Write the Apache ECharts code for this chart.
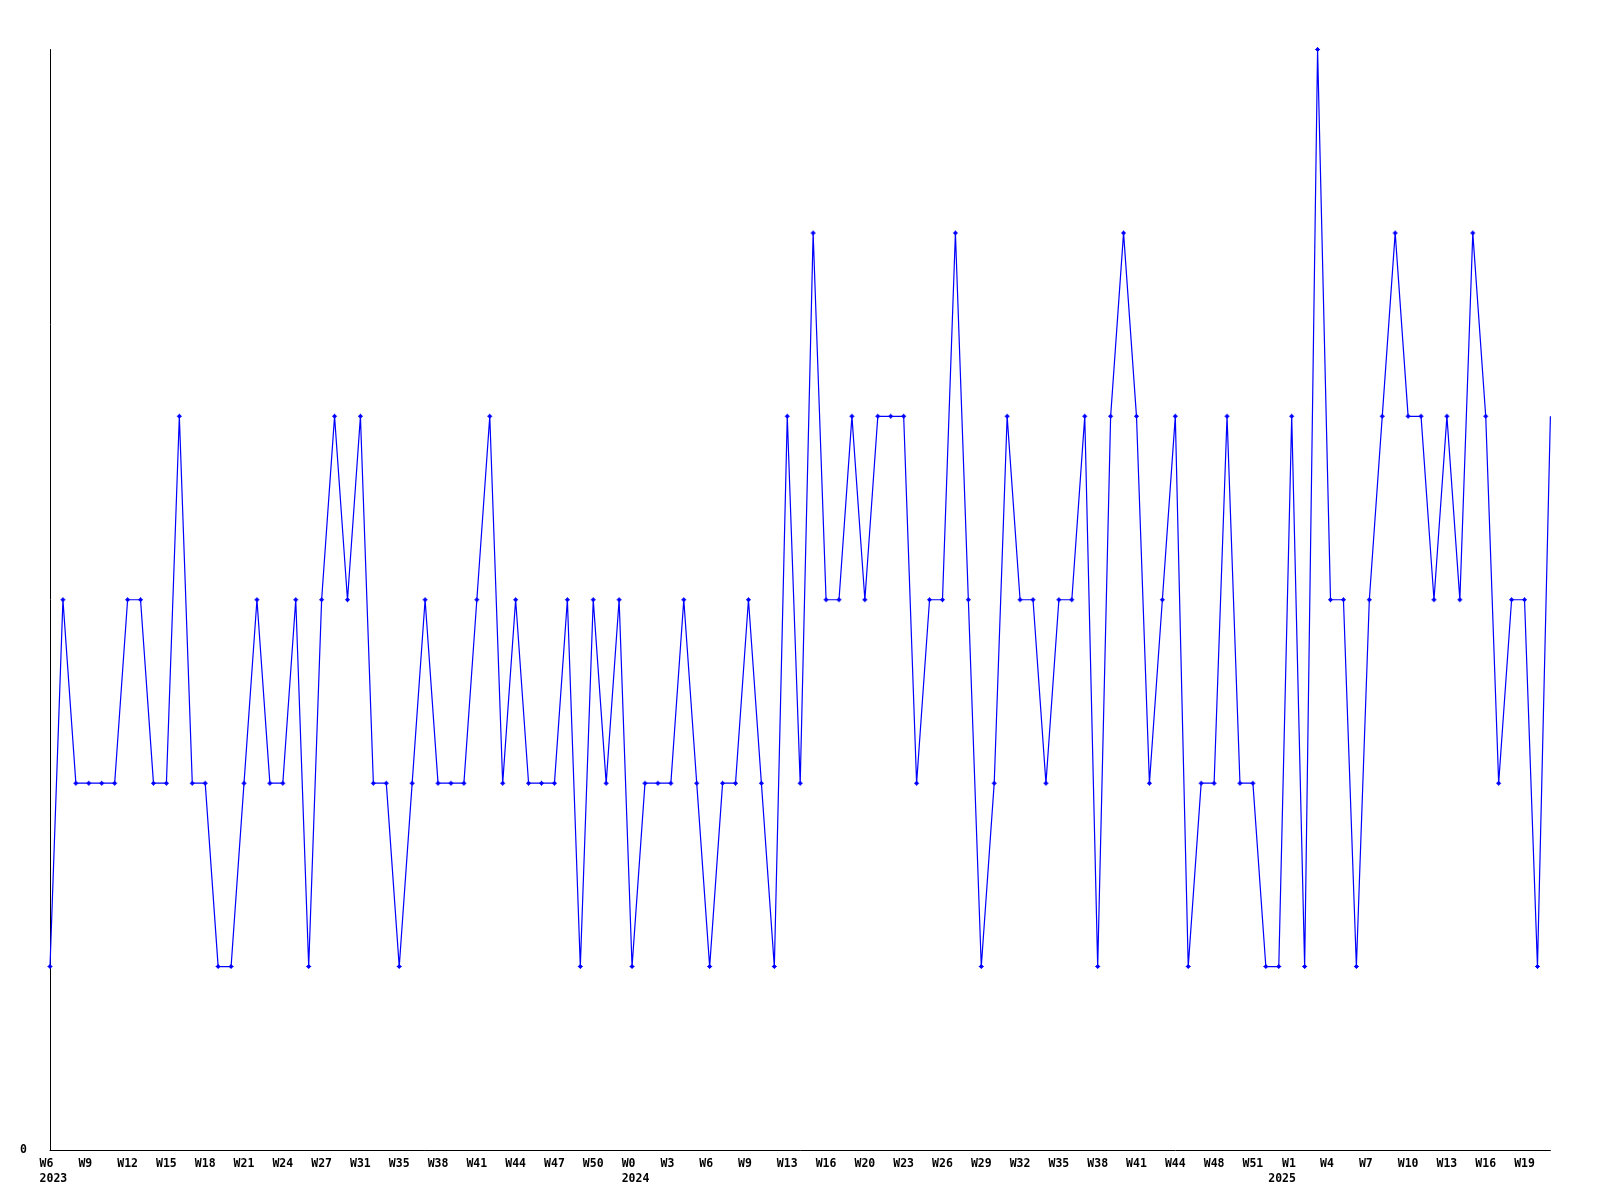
<!DOCTYPE html>
<html>
<head>
<meta charset="utf-8">
<script src="https://cdn.jsdelivr.net/npm/echarts@6/dist/echarts.min.js"></script>
<style>
  html, body { margin: 0; padding: 0; background: #ffffff; }
  #chart { width: 1600px; height: 1200px; }
</style>
</head>
<body>
<div id="chart"></div>
<script>
// Weekly values, 2023 W6 .. 2025 W20 (117 points)
const values2023 = [1,3,2,2,2,2,3,3,2,2,4,2,2,1,1,2,3,2,2,3,1,3,4,3,4,2,2,1,2,3,2,2,2,3,4,2,3,2,2,2,3,1,3,2,3];
const values2024 = [1,2,2,2,3,2,1,2,2,3,2,1,4,2,5,3,3,4,3,4,4,4,2,3,3,5,3,1,2,4,3,3,2,3,3,4,1,4,5,4,2,3,4,1,2,2,4,2,2,1,1];
const values2025 = [4,1,6,3,3,1,3,4,5,4,4,3,4,3,5,4,2,3,3,1,4];
const values = values2023.concat(values2024, values2025);

// Tick labels, one every 3 weeks
const weekLabels = ['W6','W9','W12','W15','W18','W21','W24','W27','W31','W35','W38','W41','W44','W47','W50',
  'W0','W3','W6','W9','W13','W16','W20','W23','W26','W29','W32','W35','W38','W41','W44','W48','W51',
  'W1','W4','W7','W10','W13','W16','W19'];
const yearLabels = { 0: '2023', 15: '2024', 32: '2025' };
const labelStep = 3;

const seriesData = values.map((v, i) =>
  i === values.length - 1 ? { value: [i, v], symbol: 'none' } : [i, v]);

const chart = echarts.init(document.getElementById('chart'), null, { renderer: 'canvas' });
const FONT = 'DejaVu Sans Mono';
chart.setOption({
  animation: false,
  backgroundColor: '#ffffff',
  grid: { left: 50, top: 49.5, width: 1500.4, height: 1100.5, containLabel: false },
  xAxis: {
    type: 'value',
    min: 0,
    max: values.length - 1,
    interval: labelStep,
    axisLine: { show: true, lineStyle: { color: '#000000', width: 1 } },
    axisTick: { show: false },
    splitLine: { show: false },
    axisLabel: {
      show: true,
      margin: 7,
      align: 'center',
      verticalAlign: 'top',
      formatter: function (value) {
        if (value % labelStep !== 0) return '';
        const k = value / labelStep;
        const w = weekLabels[k];
        if (w === undefined) return '';
        const y = yearLabels[k];
        if (!y) return '{a|' + w + '}';
        if (k === 32) return '{a|  ' + w + '}\n{b|' + y + '}';
        return '{a|' + w + '}\n{a|' + y + '}';
      },
      rich: {
        a: { width: 20.8, align: 'left', fontFamily: FONT, fontWeight: 'bold', fontSize: 11.5, lineHeight: 15, color: '#000000' },
        b: { width: 47, align: 'left', fontFamily: FONT, fontWeight: 'bold', fontSize: 11.5, lineHeight: 15, color: '#000000' }
      }
    }
  },
  yAxis: {
    type: 'value',
    min: 0,
    max: 6,
    interval: 1,
    axisLine: { show: true, lineStyle: { color: '#000000', width: 1 } },
    axisTick: { show: false },
    splitLine: { show: false },
    axisLabel: {
      margin: 23,
      fontFamily: FONT,
      fontWeight: 'bold',
      fontSize: 11.5,
      color: '#000000',
      formatter: function (v) { return v === 0 ? '0' : ''; }
    }
  },
  series: [{
    type: 'line',
    data: seriesData,
    showAllSymbol: true,
    symbol: 'path://M2,0H3V1H4V2H5V3H4V4H3V5H2V4H1V3H0V2H1V1H2Z',
    symbolSize: 5,
    lineStyle: { color: '#0000ff', width: 1.2 },
    itemStyle: { color: '#0000ff', borderWidth: 0 },
    emphasis: { disabled: true },
    clip: false
  }]
});
</script>
</body>
</html>
